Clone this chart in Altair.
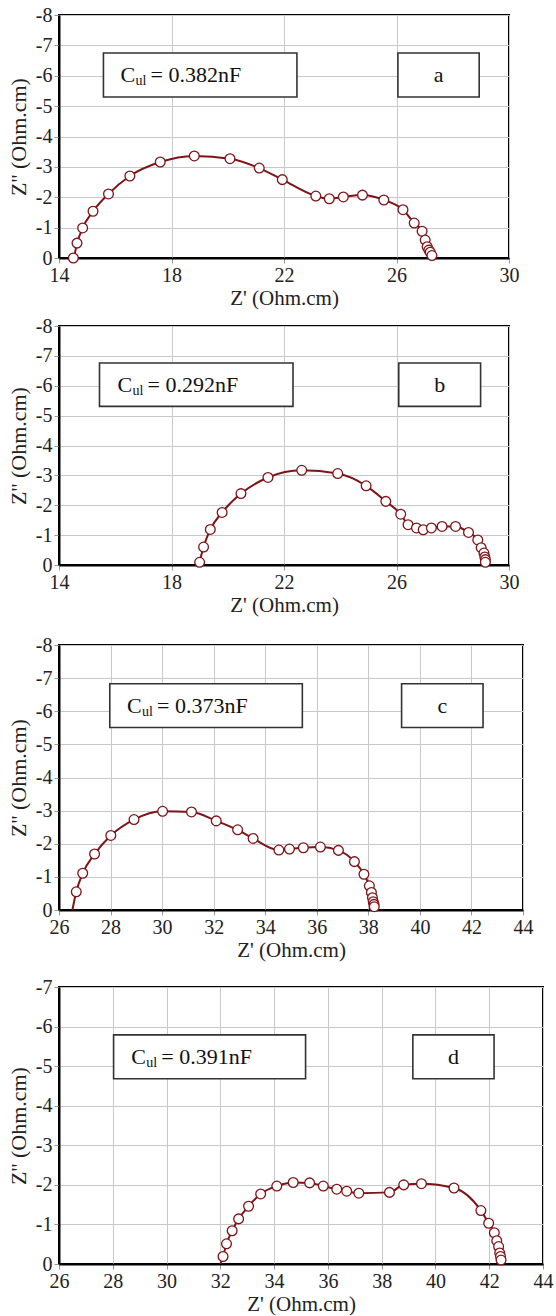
import altair as alt
import pandas as pd

RED = "#7d1418"
FONT = "Liberation Serif"
AXFONT = "Liberation Serif"

# ---- panel a ----
a_x = [14.51, 14.64, 14.84, 15.21, 15.76, 16.52, 17.60, 18.81, 20.08, 21.12, 21.94, 23.13,
       23.61, 24.11, 24.79, 25.55, 26.23, 26.63, 26.91, 27.02, 27.09, 27.15, 27.20, 27.26]
a_y = [0.0, -0.49, -0.99, -1.54, -2.11, -2.70, -3.16, -3.36, -3.27, -2.96, -2.58, -2.04,
       -1.95, -2.01, -2.07, -1.91, -1.59, -1.15, -0.88, -0.59, -0.37, -0.26, -0.19, -0.08]
a_start = (14.48, 0.0)

# ---- panel b ----
b_x = [19.00, 19.14, 19.38, 19.80, 20.47, 21.43, 22.63, 23.91, 24.92, 25.62, 26.15, 26.41,
       26.71, 26.95, 27.24, 27.62, 28.10, 28.56, 28.89, 29.01, 29.11, 29.14, 29.16, 29.16]
b_y = [-0.09, -0.60, -1.19, -1.76, -2.39, -2.93, -3.17, -3.06, -2.65, -2.13, -1.70, -1.35,
       -1.24, -1.18, -1.24, -1.29, -1.29, -1.09, -0.84, -0.58, -0.40, -0.27, -0.18, -0.09]
b_start = (18.98, 0.0)

# ---- panel c ----
c_x = [26.67, 26.92, 27.38, 28.01, 28.91, 30.02, 31.14, 32.10, 32.93, 33.53, 34.53, 34.94,
       35.48, 36.14, 36.84, 37.46, 37.83, 38.04, 38.12, 38.16, 38.19, 38.22, 38.23]
c_y = [-0.55, -1.11, -1.69, -2.25, -2.73, -2.98, -2.96, -2.69, -2.42, -2.16, -1.81, -1.84,
       -1.88, -1.90, -1.80, -1.46, -1.08, -0.73, -0.53, -0.37, -0.25, -0.17, -0.10]
c_start = (26.52, 0.0)

# ---- panel d ----
d_x = [32.10, 32.23, 32.44, 32.68, 33.05, 33.50, 34.10, 34.71, 35.32, 35.83, 36.33, 36.70,
       37.15, 38.29, 38.82, 39.48, 40.69, 41.69, 41.98, 42.19, 42.28, 42.35, 42.39, 42.42, 42.44]
d_y = [-0.19, -0.51, -0.84, -1.14, -1.46, -1.77, -1.97, -2.06, -2.05, -1.97, -1.89, -1.84,
       -1.79, -1.81, -2.00, -2.03, -1.92, -1.35, -1.03, -0.79, -0.59, -0.44, -0.28, -0.19, -0.10]
d_start = (32.00, 0.0)

labels_cap = ["0.382nF", "0.292nF", "0.373nF", "0.391nF"]
labels_letter = ["a", "b", "c", "d"]


def panel(px, py, start, xdom, xticks, ydom, yticks, w, h, cap, letter,
          box1, box2, ybox, text_x, top_ext):
    pts = pd.DataFrame({"x": px, "y": py})
    ln = pd.DataFrame({"x": [start[0]] + px, "y": [start[1]] + py})
    xs = alt.Scale(domain=xdom, nice=False, zero=False)
    ys = alt.Scale(domain=ydom, reverse=True, nice=False, zero=False)
    common = dict(labelExpr="'' + datum.value", grid=True, gridColor="#c8c8c8", gridWidth=1,
                  tickColor="#999999", tickSize=5, domainColor="black", domainWidth=2,
                  labelFontSize=20, labelFont=AXFONT, titleFont=AXFONT, labelColor="#222",
                  titleColor="#222", titleFontWeight="normal", labelFlush=False)
    xax = alt.Axis(values=xticks, title="Z' (Ohm.cm)", labelPadding=2, titlePadding=2,
                   titleFontSize=21, **common)
    yax = alt.Axis(values=yticks, title="Z'' (Ohm.cm)", labelPadding=2, titlePadding=5,
                   titleFontSize=22, **common)
    X = alt.X("x:Q", scale=xs, axis=xax)
    Y = alt.Y("y:Q", scale=ys, axis=yax)

    line = alt.Chart(ln).mark_line(color=RED, strokeWidth=2, interpolate="monotone",
                                   clip=False).encode(x=X, y=Y)
    points = alt.Chart(pts).mark_point(shape="circle", filled=True, fill="white",
                                       stroke=RED, strokeWidth=1.3, size=95,
                                       opacity=1).encode(x=X, y=Y)
    bx = pd.DataFrame({"x": [box1[0], box2[0]], "x2": [box1[1], box2[1]],
                       "y": [ybox[0], ybox[0]], "y2": [ybox[1], ybox[1]]})
    boxes = alt.Chart(bx).mark_rect(fill="white", stroke="#333", strokeWidth=1.6).encode(
        x=X, x2="x2:Q", y=Y, y2="y2:Q")
    yc = (ybox[0] + ybox[1]) / 2
    tdf = pd.DataFrame({"x": [text_x], "y": [yc]})
    t_c = alt.Chart(tdf).mark_text(text="C", align="left", baseline="middle",
                                   font=FONT, fontSize=22, color="#111").encode(x=X, y=Y)
    t_ul = alt.Chart(tdf).mark_text(text="ul", align="left", baseline="middle", dx=15, dy=6,
                                    font=FONT, fontSize=14, color="#111").encode(x=X, y=Y)
    t_val = alt.Chart(tdf).mark_text(text="= " + cap, align="left", baseline="middle",
                                     dx=30, font=FONT, fontSize=22,
                                     color="#111").encode(x=X, y=Y)
    ldf = pd.DataFrame({"x": [(box2[0] + box2[1]) / 2], "y": [yc]})
    t_let = alt.Chart(ldf).mark_text(text=letter, align="center", baseline="middle",
                                     font=FONT, fontSize=22, color="#111").encode(x=X, y=Y)
    ext = alt.Chart(tdf).mark_rule(opacity=0, strokeOpacity=0).encode(
        x=alt.value(0), y=alt.value(-top_ext), y2=alt.value(-top_ext + 1))
    layers = [line, points, boxes, t_c, t_ul, t_val, t_let]
    if top_ext > 0:
        layers.append(ext)
    return alt.layer(*layers).properties(width=w, height=h)


ticks_ab = [14, 18, 22, 26, 30]
ticks_cd = [26, 28, 30, 32, 34, 36, 38, 40, 42, 44]

pa = panel(a_x, a_y, a_start, [14, 30], ticks_ab, [-8, 0], list(range(-8, 1)), 450, 243,
           labels_cap[0], labels_letter[0], (15.58, 22.46), (26.05, 28.94), (-6.75, -5.30),
           16.19, 0)
pb = panel(b_x, b_y, b_start, [14, 30], ticks_ab, [-8, 0], list(range(-8, 1)), 450, 239,
           labels_cap[1], labels_letter[1], (15.44, 22.32), (26.08, 28.99), (-6.76, -5.31),
           16.08, 0)
pc = panel(c_x, c_y, c_start, [26, 44], ticks_cd, [-8, 0], list(range(-8, 1)), 464, 265,
           labels_cap[2], labels_letter[2], (27.97, 35.44), (39.29, 42.45), (-6.83, -5.51),
           28.64, 22)
pd_ = panel(d_x, d_y, d_start, [26, 44], ticks_cd, [-7, 0], list(range(-7, 1)), 484, 277,
            labels_cap[3], labels_letter[3], (28.03, 35.17), (39.16, 42.18), (-5.79, -4.68),
            28.69, 19)

chart = alt.vconcat(pa, pb, pc, pd_, spacing=6).properties(
    padding={"left": 6, "top": 4, "right": 2, "bottom": 2},
    background="white",
).configure_view(stroke="black", strokeWidth=2)

chart.save("out.html", embed_options={"renderer": "svg", "actions": False})
